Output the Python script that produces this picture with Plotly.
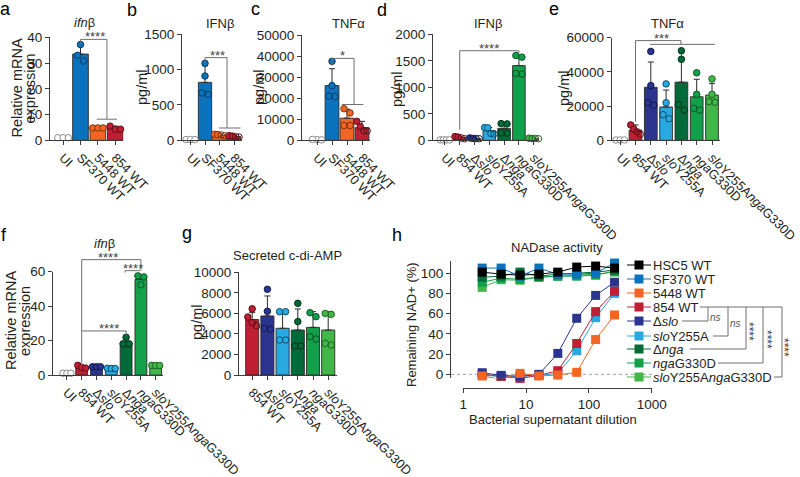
import plotly.graph_objects as go

W, H = 800, 477
FONT = "Liberation Sans, Arial, Helvetica, sans-serif"
TXT = "#231f20"
AXC = "#3c3c3c"
BRC = "#6e6e6e"

# ---------------- data ----------------
a_categories = ["UI", "SF370 WT", "5448 WT", "854 WT"]
a_means = [1.0, 33.5, 4.6, 4.6]
a_sd = [None, 3.2, 0.3, 0.9]
a_points = [[1.0, 1.0, 1.0], [37.2, 33.0, 30.8], [4.8, 4.8, 4.8], [5.5, 4.3, 4.3]]

b_categories = ["UI", "SF370 WT", "5448 WT", "854 WT"]
b_means = [12, 820, 75, 55]
b_sd = [None, 235, 15, 12]
b_points = [[10, 10, 10], [1090, 910, 670, 650], [85, 80, 75, 65], [65, 60, 50, 45]]

c_categories = ["UI", "SF370 WT", "5448 WT", "854 WT"]
c_means = [300, 26000, 10500, 6000]
c_sd = [None, 8000, 4300, 3000]
c_points = [[300, 200, 400], [37500, 26000, 20800, 21000], [15000, 13000, 7000, 7000], [9000, 6500, 4500, 4500]]

d_categories = ["UI", "854 WT", "Δslo", "sloY255A", "Δnga", "ngaG330D", "sloY255AngaG330D"]
d_means = [8, 50, 35, 180, 225, 1410, 30]
d_sd = [None, 15, 10, 60, 90, 170, 10]
d_points = [[8, 8, 8, 8], [70, 60, 45, 30], [45, 35, 30, 35], [240, 235, 130, 120],
            [315, 310, 140, 135], [1600, 1570, 1260, 1250], [40, 35, 30, 35]]

e_categories = ["UI", "854 WT", "Δslo", "sloY255A", "Δnga", "ngaG330D", "sloY255AngaG330D"]
e_means = [200, 6000, 31000, 19500, 34000, 25500, 26500]
e_sd = [None, 3000, 14800, 9900, 18000, 10200, 6800]
e_points = [[200, 200, 200], [9000, 6500, 5000, 3500], [52000, 32000, 22000, 20500],
            [33000, 22000, 15000, 12600], [52400, 47400, 21000, 17700],
            [39500, 26900, 17700, 18700], [35900, 26900, 22200, 22600]]

f_categories = ["UI", "854 WT", "Δslo", "sloY255A", "Δnga", "ngaG330D", "sloY255AngaG330D"]
f_means = [1.0, 4.5, 4.6, 3.6, 19.0, 55.5, 5.2]
f_sd = [None, 0.8, 0.3, 0.3, 2.4, 2.2, 0.3]
f_points = [[1, 1, 1], [5.6, 4.4, 4.0], [4.8, 4.8, 4.8], [3.9, 3.8, 3.8],
            [21.9, 18.1, 18.1], [57.6, 57.0, 52.4], [5.6, 5.5, 5.5]]

g_categories = ["854 WT", "Δslo", "sloY255A", "Δnga", "ngaG330D", "sloY255AngaG330D"]
g_means = [5400, 5750, 4550, 4380, 4640, 4380]
g_sd = [700, 1950, 1620, 2050, 1530, 1790]
g_points = [[6450, 5650, 5100, 4800], [8350, 6200, 4550, 4450], [6170, 6170, 3410, 3410],
            [6980, 5200, 2830, 2830], [5680, 6070, 3730, 3500], [5910, 6000, 2920, 3080]]

h_dilution = [2, 4, 8, 16, 32, 64, 128, 256]
h_series = ["HSC5 WT", "SF370 WT", "5448 WT", "854 WT", "Δslo", "sloY255A", "Δnga", "ngaG330D", "sloY255AngaG330D"]
h_hsc5 = [101, 99, 98, 99, 101, 106, 107, 105]
h_sf370 = [105, 105, 97, 105, 99, 99, 100, 110]
h_5448 = [-1.6, -5, 1, -1.6, -0.7, 2, 34.4, 58.7]
h_854 = [0, -2, -4, -1, 3.6, 30.5, 62, 82]
h_dslo = [1.6, -1, -2, 0, 20.7, 55.4, 78, 91]
h_sloY = [-1, -2, -2, -1, 1, 23.3, 56, 80]
h_dnga = [96, 97, 101, 97, 99, 100, 101, 103]
h_ngaG = [91, 95, 94, 96, 97, 97, 98, 102]
h_combo = [86, 93.5, 93, 96, 97, 98, 99, 101]

# ---------------- style ----------------
COL = {  # fill, dark outline
    "UI": ("#ffffff", "#8a8a8a"),
    "HSC5 WT": ("#000000", "#000000"),
    "SF370 WT": ("#0b72bd", "#083b66"),
    "5448 WT": ("#f26522", "#7a3210"),
    "854 WT": ("#c01f33", "#5e0d17"),
    "Δslo": ("#2b3590", "#12184a"),
    "sloY255A": ("#29a9e0", "#0b4e6e"),
    "Δnga": ("#006a38", "#00301a"),
    "ngaG330D": ("#12a04a", "#075526"),
    "sloY255AngaG330D": ("#43b649", "#1c6420"),
}
LBL = {
    "UI": "UI", "SF370 WT": "SF370 WT", "5448 WT": "5448 WT", "854 WT": "854 WT",
    "HSC5 WT": "HSC5 WT",
    "Δslo": "Δ<i>slo</i>", "sloY255A": "<i>slo</i>Y255A", "Δnga": "Δ<i>nga</i>",
    "ngaG330D": "<i>nga</i>G330D", "sloY255AngaG330D": "<i>slo</i>Y255A<i>nga</i>G330D",
}


def fx(px):
    return px / W


def fy(py):
    return 1.0 - py / H


def aid(i):
    return "" if i == 1 else str(i)


panels = [
    dict(cats=a_categories, means=a_means, sd=a_sd, pts=a_points, ymax=40, yt=[0, 10, 20, 30, 40],
         c0=63.1, s=17.4, x0=50, x1=123.3, ytop=37.3, ybot=140.3, bw=0.9),
    dict(cats=b_categories, means=b_means, sd=b_sd, pts=b_points, ymax=1500, yt=[0, 500, 1000, 1500],
         c0=190.5, s=14.5, x0=182, x1=242, ytop=34.3, ybot=140.3, bw=0.92),
    dict(cats=c_categories, means=c_means, sd=c_sd, pts=c_points, ymax=50000,
         yt=[0, 10000, 20000, 30000, 40000, 50000],
         c0=317, s=15, x0=302, x1=370, ytop=35, ybot=140.3, bw=0.92),
    dict(cats=d_categories, means=d_means, sd=d_sd, pts=d_points, ymax=2000, yt=[0, 500, 1000, 1500, 2000],
         c0=444.9, s=14.8, x0=433, x1=539, ytop=34.3, ybot=140.3, bw=0.85),
    dict(cats=e_categories, means=e_means, sd=e_sd, pts=e_points, ymax=60000, yt=[0, 20000, 40000, 60000],
         c0=620.2, s=15.3, x0=611.7, x1=720, ytop=37.7, ybot=140.3, bw=0.83),
    dict(cats=f_categories, means=f_means, sd=f_sd, pts=f_points, ymax=60, yt=[0, 20, 40, 60],
         c0=66.9, s=14.8, x0=53, x1=163.3, ytop=271.7, ybot=375, bw=0.8),
    dict(cats=g_categories, means=g_means, sd=g_sd, pts=g_points, ymax=10000,
         yt=[0, 2000, 4000, 6000, 8000, 10000],
         c0=252.2, s=15.2, x0=239, x1=337.3, ytop=272.3, ybot=375, bw=0.86),
]

AX = dict(showline=True, linecolor=AXC, linewidth=1, ticks="outside", ticklen=4, tickwidth=1,
          tickcolor=AXC, showgrid=False, zeroline=False, fixedrange=True,
          tickfont=dict(family=FONT, size=13.5, color=TXT))


def swarm(vals, upx, xpx, d, maxw):
    order = sorted(range(len(vals)), key=lambda k: -vals[k])
    clusters, cur = [], [order[0]]
    for k in order[1:]:
        if abs(vals[cur[-1]] - vals[k]) * upx < d:
            cur.append(k)
        else:
            clusters.append(cur)
            cur = [k]
    clusters.append(cur)
    offs = [0.0] * len(vals)
    for cl in clusters:
        m = len(cl)
        sp = min(d, maxw / m) if m > 1 else 0
        for q, k in enumerate(cl):
            offs[k] = (q - (m - 1) / 2) * sp / xpx
    return offs, order


fig = go.Figure()
layout = {}
shapes = []
annotations = []


def note(text, x, y, size=13, xanchor="center", yanchor="middle", angle=0, color=TXT):
    annotations.append(dict(text=text, x=fx(x), y=fy(y), xref="paper", yref="paper", showarrow=False,
                            xanchor=xanchor, yanchor=yanchor, textangle=angle,
                            font=dict(family=FONT, size=size, color=color)))


def pline(x0, y0, x1, y1):
    shapes.append(dict(type="line", xref="paper", yref="paper", x0=fx(x0), y0=fy(y0),
                       x1=fx(x1), y1=fy(y1), line=dict(color=BRC, width=1)))


for i, P in enumerate(panels, start=1):
    n = len(P["cats"])
    xs = list(range(n))
    xref, yref = "x" + aid(i), "y" + aid(i)
    upx = (P["ybot"] - P["ytop"]) / P["ymax"]
    fig.add_trace(go.Bar(
        x=xs, y=P["means"], width=P["bw"],
        marker=dict(color=[COL[c][0] for c in P["cats"]],
                    line=dict(color=["#8a8a8a" if c == "UI" else "#2a2a2a" for c in P["cats"]], width=0.9)),
        error_y=dict(type="data", symmetric=False, array=P["sd"], arrayminus=[0] * n,
                     color="#2a2a2a", thickness=1, width=3),
        xaxis=xref, yaxis=yref, showlegend=False, hoverinfo="skip"))
    for j, c in enumerate(P["cats"]):
        vals = P["pts"][j]
        offs, order = swarm(vals, upx, P["s"], 6.0, P["bw"] * P["s"])
        rank = {k: r for r, k in enumerate(order)}
        fills = []
        for k in range(len(vals)):
            if c == "UI":
                fills.append("#ffffff")
            elif len(vals) == 4 and rank[k] >= 2:
                fills.append("rgba(0,0,0,0)")
            else:
                fills.append(COL[c][0])
        fig.add_trace(go.Scatter(
            x=[j + o for o in offs], y=vals, mode="markers",
            marker=dict(size=6.5, color=fills, line=dict(color=COL[c][1], width=1)),
            xaxis=xref, yaxis=yref, showlegend=False, hoverinfo="skip", cliponaxis=False))
    xax = dict(AX)
    xax["tickfont"] = dict(family=FONT, size=12.8, color=TXT)
    layout["xaxis" + aid(i)] = dict(
        domain=[fx(P["x0"]), fx(P["x1"])],
        range=[(P["x0"] - P["c0"]) / P["s"], (P["x1"] - P["c0"]) / P["s"]],
        anchor=yref, tickvals=xs, ticktext=[LBL[c] for c in P["cats"]], tickangle=45,
        ticklabeloverflow="allow", **xax)
    layout["yaxis" + aid(i)] = dict(
        domain=[fy(P["ybot"]), fy(P["ytop"])], range=[0, P["ymax"] * 1.0005], anchor=xref,
        tickvals=P["yt"], ticktext=[str(v) for v in P["yt"]], ticklabeloverflow="allow", **AX)

# ---------------- panel h ----------------
h_values = {"HSC5 WT": h_hsc5, "SF370 WT": h_sf370, "5448 WT": h_5448, "854 WT": h_854,
            "Δslo": h_dslo, "sloY255A": h_sloY, "Δnga": h_dnga, "ngaG330D": h_ngaG,
            "sloY255AngaG330D": h_combo}
draw_order = ["sloY255A", "854 WT", "Δslo", "5448 WT", "sloY255AngaG330D", "ngaG330D", "Δnga",
              "SF370 WT", "HSC5 WT"]
for name in draw_order:
    col = COL[name][0]
    fig.add_trace(go.Scatter(
        x=h_dilution, y=h_values[name], mode="lines+markers",
        line=dict(color=col, width=1), marker=dict(symbol="square", size=9, color=col),
        xaxis="x8", yaxis="y8", showlegend=False, hoverinfo="skip", cliponaxis=False))

layout["xaxis8"] = dict(type="log", domain=[fx(463.3), fx(651.7)], range=[0, 3], anchor="free",
                        position=fy(388), tickvals=[1, 10, 100, 1000],
                        ticktext=["1", "10", "100", "1000"], **AX)
layout["yaxis8"] = dict(domain=[fy(378.4), fy(261)], range=[-4, 112], anchor="free", position=fx(450),
                        tickvals=[0, 20, 40, 60, 80, 100],
                        ticktext=["0", "20", "40", "60", "80", "100"], **AX)
shapes.append(dict(type="line", xref="paper", yref="y8", x0=fx(451), x1=fx(652), y0=0, y1=0,
                   line=dict(color="#a0a0a0", width=1, dash="dot"), layer="below"))

# legend (overlay pixel axis)
layout["xaxis9"] = dict(domain=[0, 1], range=[0, W], visible=False, fixedrange=True, anchor="y9")
layout["yaxis9"] = dict(domain=[0, 1], range=[H, 0], visible=False, fixedrange=True, anchor="x9")
rows = [265, 279, 293, 307, 321, 336, 349, 363, 377]
for name, ry in zip(h_series, rows):
    col = COL[name][0]
    shapes.append(dict(type="line", xref="paper", yref="paper", x0=fx(627), x1=fx(651),
                       y0=fy(ry), y1=fy(ry), line=dict(color=col, width=1)))
    note(LBL[name], 651, ry, size=13, xanchor="left")
fig.add_trace(go.Scatter(x=[639] * len(rows), y=rows, mode="markers",
                         marker=dict(symbol="square", size=9, color=[COL[nm][0] for nm in h_series]),
                         xaxis="x9", yaxis="y9", showlegend=False, hoverinfo="skip", cliponaxis=False))

pline(700, 307, 782, 307)
pline(682, 321, 708, 321); pline(708, 307, 708, 321)
pline(713, 336, 728, 336); pline(728, 307, 728, 336)
pline(690, 349, 746, 349); pline(746, 307, 746, 349)
pline(718, 363, 763, 363); pline(763, 307, 763, 363)
pline(774, 377, 782, 377); pline(782, 307, 782, 377)
note("<i>ns</i>", 715.5, 317.5, size=10, color="#555555")
note("<i>ns</i>", 735, 323, size=10, color="#555555")
for x, y in [(751.5, 331), (769.5, 339), (786.5, 347)]:
    note("****", x - 2.5, y, size=12, angle=90, color="#444444")

# ---------------- brackets on bar panels (in each panel's data units) ----------------
brackets = {
    1: [(1, 37.8, 1, 39.2), (1, 39.2, 2.52, 39.2), (2.52, 39.2, 2.52, 8.2), (1.93, 8.2, 3.1, 8.2)],
    2: [(1, 1090, 1, 1170), (1, 1170, 2.52, 1170), (2.52, 1170, 2.52, 174), (1.97, 174, 3.45, 174)],
    3: [(1, 35500, 1, 38900), (1, 38900, 2.47, 38900), (2.47, 38900, 2.47, 17000), (1.65, 17000, 3.09, 17000)],
    4: [(1, 200, 1, 1690), (1, 1690, 5, 1690), (5, 1690, 5, 1640)],
    5: [(1, 10900, 1, 58300), (1, 58300, 3.97, 58300), (3.97, 58300, 3.97, 56100), (1.95, 56100, 6.2, 56100)],
    6: [(1, 5.8, 1, 67), (1, 67, 5, 67), (5, 67, 5, 60.6), (3.93, 60.6, 4.94, 60.6),
        (3.93, 60.6, 3.93, 59.5), (1, 25.6, 4, 25.6), (4, 25.6, 4, 22.5)],
}
stars = {
    1: [("****", 1.83, 39.2)], 2: [("***", 1.83, 1170)], 3: [("*", 1.67, 38900)],
    4: [("****", 3.0, 1690)], 5: [("***", 2.7, 58300)],
    6: [("****", 2.75, 67), ("****", 4.47, 60.6), ("****", 2.85, 25.6)],
}


def to_px(P, x, y):
    upx = (P["ybot"] - P["ytop"]) / P["ymax"]
    return P["c0"] + x * P["s"], P["ybot"] - y * upx


for i, segs in brackets.items():
    P = panels[i - 1]
    for (x0, y0, x1, y1) in segs:
        a0, b0 = to_px(P, x0, y0)
        a1, b1 = to_px(P, x1, y1)
        pline(a0, b0, a1, b1)
for i, lst in stars.items():
    P = panels[i - 1]
    for t, x, y in lst:
        px, py = to_px(P, x, y)
        note(t, px, py - 2.5, size=13, color="#444444")

# ---------------- text annotations ----------------
for t, x, base in [("a", 0, 17), ("b", 127, 18), ("c", 251, 17), ("d", 377, 18), ("e", 549, 17),
                   ("f", 1, 243), ("g", 182, 241), ("h", 392, 243)]:
    note(t, x - 2, base + 4, size=18, xanchor="left", yanchor="bottom", color="#000000")
for t, x, y in [("<i>ifn</i>β", 84, 22), ("IFNβ", 220, 24), ("TNFα", 348, 24), ("IFNβ", 488, 24),
                ("TNFα", 667, 24), ("<i>ifn</i>β", 104, 243), ("Secreted c-di-AMP", 287, 255),
                ("NADase activity", 557, 247.5)]:
    note(t, x, y, size=13)
for t, x, y, sz in [("Relative mRNA", 17, 88.5, 14.5), ("expression", 30, 88.5, 14.5),
                    ("pg/ml", 142, 88, 14.5), ("pg/ml", 259, 88, 14.5), ("pg/ml", 397, 90, 14.5),
                    ("pg/ml", 564, 89, 14.5), ("Relative mRNA", 11, 321, 14.5),
                    ("expression", 25, 321, 14.5), ("pg/ml", 197, 323, 14.5),
                    ("Remaining NAD+ (%)", 411, 325, 13)]:
    note(t, x, y, size=sz, angle=-90)
note("Bacterial supernatant dilution", 553, 419, size=13)

fig.update_layout(
    width=W, height=H, margin=dict(l=0, r=0, t=0, b=0, pad=0, autoexpand=False),
    paper_bgcolor="white", plot_bgcolor="rgba(0,0,0,0)",
    font=dict(family=FONT, size=13, color=TXT),
    showlegend=False, bargap=0, shapes=shapes, annotations=annotations, **layout)

fig.write_html("out.html", config={"displayModeBar": False, "staticPlot": True},
               post_script="document.body.style.margin='0';document.body.style.padding='0';"
                           "document.body.style.overflow='hidden';")
